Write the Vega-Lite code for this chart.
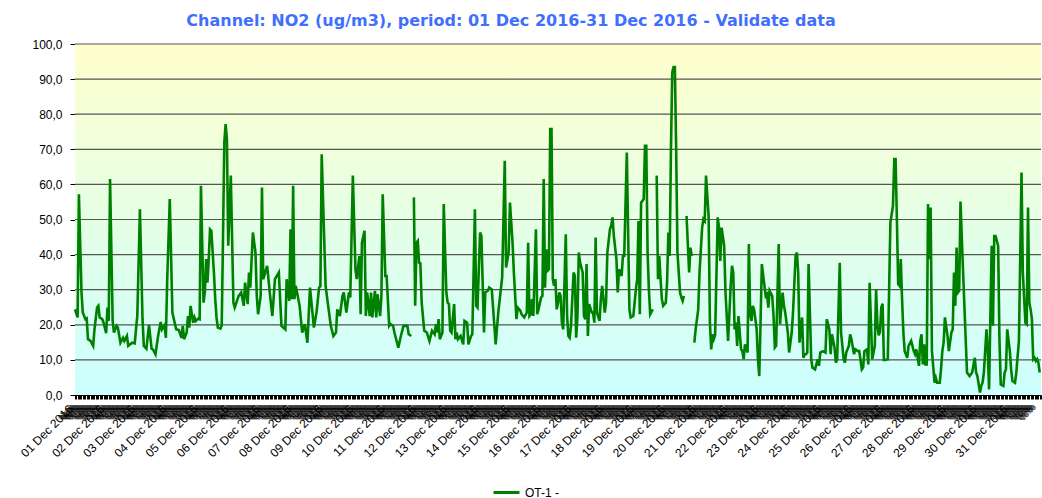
{
"$schema": "https://vega.github.io/schema/vega-lite/v6.json",
"width": 966, "height": 351,
"autosize": {"type": "none"},
"padding": {"left": 75, "top": 44, "right": 1, "bottom": 103},
"background": "white",
"title": {"text": "Channel: NO2 (ug/m3), period: 01 Dec 2016-31 Dec 2016 - Validate data", "font": "DejaVu Sans", "fontSize": 16, "fontWeight": "bold", "color": "#3F6FFF", "anchor": "middle", "dx": -47, "offset": 9},
"layer": [
{"data": {"values": [{}]},
 "mark": {"type": "rect", "color": {"gradient": "linear", "x1": 0, "y1": 0, "x2": 0, "y2": 1, "stops": [{"offset": 0, "color": "#FFFFCC"}, {"offset": 1, "color": "#CCFFFF"}]}},
 "encoding": {
   "x": {"datum": {"year": 2016, "month": 12, "date": 1, "utc": true}, "type": "temporal"},
   "x2": {"datum": {"year": 2017, "month": 1, "date": 1, "utc": true}},
   "y": {"datum": 100, "type": "quantitative",
    "axis": {"title": null, "grid": false, "values": [0,10,20,30,40,50,60,70,80,90,100], "labelOverlap": false,
      "labelExpr": "replace(format(datum.value,'.1f'),'.',',')",
      "labelFont": "Liberation Sans", "labelFontSize": 12, "labelColor": "black",
      "tickColor": "black", "tickSize": 5, "domainColor": "black", "labelPadding": 8}},
   "y2": {"datum": 0}}},
{"data": {"values": [{"g":10},{"g":20},{"g":30},{"g":40},{"g":50},{"g":60},{"g":70},{"g":80},{"g":90},{"g":100}]},
 "mark": {"type": "rule", "color": "#555555", "strokeWidth": 1.2},
 "encoding": {"y": {"field": "g", "type": "quantitative",
    "axis": {"title": null, "grid": false, "values": [0,10,20,30,40,50,60,70,80,90,100], "labelOverlap": false,
      "labelExpr": "replace(format(datum.value,'.1f'),'.',',')",
      "labelFont": "Liberation Sans", "labelFontSize": 12, "labelColor": "black",
      "tickColor": "black", "tickSize": 5, "domainColor": "black", "labelPadding": 8}}}},
{"data": {"format": {"parse": {"t": "utc:'%Y%m%d%H'"}}, "values": [
{"t":"2016120100","v":24.4},{"t":"2016120102","v":22.1},{"t":"2016120103","v":57.2},{"t":"2016120105","v":29.2},{"t":"2016120106","v":23.5},{"t":"2016120108","v":21.6},{"t":"2016120109","v":21.8},{"t":"2016120110","v":15.9},{"t":"2016120112","v":15.4},{"t":"2016120114","v":14},{"t":"2016120115","v":18.7},{"t":"2016120117","v":24.9},{"t":"2016120118","v":25.4},{"t":"2016120119","v":22.1},{"t":"2016120121","v":21.6},{"t":"2016120122","v":20.6},
{"t":"2016120200","v":17.6},{"t":"2016120201","v":24.9},{"t":"2016120202","v":21.1},{"t":"2016120203","v":61.5},{"t":"2016120205","v":21.1},{"t":"2016120206","v":17.8},{"t":"2016120208","v":19.7},{"t":"2016120209","v":19.2},{"t":"2016120211","v":14.9},{"t":"2016120213","v":16.3},{"t":"2016120214","v":15.4},{"t":"2016120216","v":16.8},{"t":"2016120217","v":14},{"t":"2016120220","v":14.9},{"t":"2016120222","v":14.7},
{"t":"2016120300","v":22.7},{"t":"2016120302","v":52.9},{"t":"2016120304","v":21.6},{"t":"2016120305","v":14},{"t":"2016120307","v":13.2},{"t":"2016120309","v":19.9},{"t":"2016120311","v":13.2},{"t":"2016120312","v":13},{"t":"2016120314","v":11.6},{"t":"2016120316","v":16.8},{"t":"2016120318","v":20.8},{"t":"2016120319","v":18.7},{"t":"2016120321","v":19.9},{"t":"2016120322","v":16.3},{"t":"2016120323","v":32.5},
{"t":"2016120401","v":55.8},{"t":"2016120403","v":23.5},{"t":"2016120405","v":20.2},{"t":"2016120406","v":18.7},{"t":"2016120408","v":18.5},{"t":"2016120410","v":16.3},{"t":"2016120411","v":19.7},{"t":"2016120412","v":15.9},{"t":"2016120414","v":17.8},{"t":"2016120415","v":22.5},{"t":"2016120416","v":19.2},{"t":"2016120417","v":25.4},{"t":"2016120419","v":20.6},{"t":"2016120420","v":22.1},{"t":"2016120421","v":21.1},{"t":"2016120423","v":21.8},
{"t":"2016120500","v":21.6},{"t":"2016120501","v":59.6},{"t":"2016120503","v":26.3},{"t":"2016120504","v":29.2},{"t":"2016120505","v":38.7},{"t":"2016120506","v":32},{"t":"2016120507","v":38.7},{"t":"2016120508","v":47.2},{"t":"2016120509","v":46.8},{"t":"2016120511","v":34.9},{"t":"2016120512","v":27.3},{"t":"2016120513","v":22.1},{"t":"2016120514","v":19.2},{"t":"2016120516","v":18.9},{"t":"2016120517","v":19.9},{"t":"2016120518","v":45},{"t":"2016120519","v":72},{"t":"2016120520","v":77.2},{"t":"2016120521","v":72.9},{"t":"2016120522","v":42.5},
{"t":"2016120600","v":62.5},{"t":"2016120602","v":26.3},{"t":"2016120603","v":24.9},{"t":"2016120606","v":28.2},{"t":"2016120608","v":29.2},{"t":"2016120610","v":25.4},{"t":"2016120611","v":32},{"t":"2016120613","v":25.9},{"t":"2016120614","v":34.9},{"t":"2016120615","v":30.6},{"t":"2016120617","v":46.3},{"t":"2016120619","v":40.6},{"t":"2016120620","v":28.2},{"t":"2016120621","v":23},{"t":"2016120623","v":28.2},
{"t":"2016120700","v":59.1},{"t":"2016120701","v":33},{"t":"2016120704","v":36.8},{"t":"2016120706","v":29.2},{"t":"2016120708","v":22.5},{"t":"2016120710","v":33},{"t":"2016120713","v":34.9},{"t":"2016120715","v":19.7},{"t":"2016120718","v":18.7},{"t":"2016120719","v":33},{"t":"2016120721","v":26.8},{"t":"2016120722","v":47.2},{"t":"2016120723","v":27.3},
{"t":"2016120800","v":59.6},{"t":"2016120801","v":27.3},{"t":"2016120802","v":31.1},{"t":"2016120805","v":25.4},{"t":"2016120807","v":17.8},{"t":"2016120809","v":20.2},{"t":"2016120811","v":14.9},{"t":"2016120813","v":30.6},{"t":"2016120816","v":19.2},{"t":"2016120818","v":23.5},{"t":"2016120820","v":30.6},{"t":"2016120821","v":31},{"t":"2016120822","v":68.6},
{"t":"2016120901","v":31.1},{"t":"2016120903","v":25.4},{"t":"2016120905","v":19.7},{"t":"2016120907","v":16.8},{"t":"2016120909","v":17.8},{"t":"2016120910","v":24.4},{"t":"2016120912","v":22.5},{"t":"2016120914","v":28.2},{"t":"2016120915","v":29.2},{"t":"2016120917","v":23.5},{"t":"2016120919","v":29.2},{"t":"2016120920","v":27.8},{"t":"2016120922","v":62.5},
{"t":"2016121000","v":35.8},{"t":"2016121001","v":33},{"t":"2016121003","v":39.6},{"t":"2016121004","v":23},{"t":"2016121005","v":43.4},{"t":"2016121007","v":46.8},{"t":"2016121008","v":22.5},{"t":"2016121009","v":29.2},{"t":"2016121011","v":22.5},{"t":"2016121012","v":29.2},{"t":"2016121013","v":22.1},{"t":"2016121015","v":29.7},{"t":"2016121016","v":22.1},{"t":"2016121017","v":28.7},{"t":"2016121019","v":22.5},{"t":"2016121020","v":28.2},{"t":"2016121021","v":57.2},{"t":"2016121023","v":33.9},
{"t":"2016121100","v":33.9},{"t":"2016121102","v":19.7},{"t":"2016121103","v":20.2},{"t":"2016121105","v":19.7},{"t":"2016121106","v":17.8},{"t":"2016121109","v":13.5},{"t":"2016121111","v":16.8},{"t":"2016121113","v":19.7},{"t":"2016121116","v":19.7},{"t":"2016121117","v":17.3},{"t":"2016121119","v":16.8},{"t":"2016121120","v":null},{"t":"2016121121","v":56.3},{"t":"2016121122","v":25.4},{"t":"2016121123","v":43.4},
{"t":"2016121200","v":43.9},{"t":"2016121201","v":37.7},{"t":"2016121202","v":37.5},{"t":"2016121203","v":26.3},{"t":"2016121205","v":18.3},{"t":"2016121207","v":17.8},{"t":"2016121209","v":15.4},{"t":"2016121211","v":18.3},{"t":"2016121213","v":17.3},{"t":"2016121214","v":20.2},{"t":"2016121215","v":17.8},{"t":"2016121216","v":21.6},{"t":"2016121217","v":15.9},{"t":"2016121219","v":17.8},{"t":"2016121220","v":54.4},{"t":"2016121222","v":29.2},{"t":"2016121223","v":26.3},
{"t":"2016121300","v":25.9},{"t":"2016121301","v":18.3},{"t":"2016121302","v":17.8},{"t":"2016121304","v":25.9},{"t":"2016121305","v":15.9},{"t":"2016121306","v":17.8},{"t":"2016121307","v":15.9},{"t":"2016121309","v":16.8},{"t":"2016121311","v":14.4},{"t":"2016121312","v":21.1},{"t":"2016121314","v":20.6},{"t":"2016121315","v":14.4},{"t":"2016121317","v":16.8},{"t":"2016121318","v":17.3},{"t":"2016121320","v":52.9},{"t":"2016121321","v":25.4},{"t":"2016121322","v":24.9},
{"t":"2016121400","v":46.3},{"t":"2016121401","v":45.3},{"t":"2016121403","v":17.8},{"t":"2016121404","v":29.2},{"t":"2016121406","v":29.7},{"t":"2016121407","v":30.6},{"t":"2016121409","v":30.1},{"t":"2016121412","v":14.4},{"t":"2016121414","v":23.5},{"t":"2016121417","v":33.5},{"t":"2016121419","v":66.7},{"t":"2016121420","v":36.3},{"t":"2016121422","v":40.6},{"t":"2016121423","v":54.8},
{"t":"2016121501","v":43.4},{"t":"2016121502","v":34.9},{"t":"2016121504","v":21.6},{"t":"2016121505","v":24.9},{"t":"2016121507","v":24},{"t":"2016121508","v":23},{"t":"2016121510","v":22.1},{"t":"2016121512","v":23.5},{"t":"2016121513","v":43.4},{"t":"2016121514","v":22.5},{"t":"2016121515","v":23},{"t":"2016121516","v":27.3},{"t":"2016121517","v":22.5},{"t":"2016121519","v":47.2},{"t":"2016121520","v":23},{"t":"2016121521","v":24.4},{"t":"2016121523","v":27.8},
{"t":"2016121600","v":28.2},{"t":"2016121601","v":61.5},{"t":"2016121602","v":30.6},{"t":"2016121603","v":41.5},{"t":"2016121604","v":35.4},{"t":"2016121605","v":35.8},{"t":"2016121606","v":75.8},{"t":"2016121607","v":75.8},{"t":"2016121608","v":33},{"t":"2016121609","v":31.1},{"t":"2016121610","v":33},{"t":"2016121611","v":24.4},{"t":"2016121612","v":26.3},{"t":"2016121613","v":29.2},{"t":"2016121614","v":28.2},{"t":"2016121615","v":20.6},{"t":"2016121616","v":18.7},{"t":"2016121618","v":45.8},{"t":"2016121619","v":22.5},{"t":"2016121620","v":16.8},{"t":"2016121621","v":16.3},{"t":"2016121622","v":19.7},
{"t":"2016121700","v":34.9},{"t":"2016121701","v":33.9},{"t":"2016121702","v":16.3},{"t":"2016121703","v":22.5},{"t":"2016121704","v":40.6},{"t":"2016121705","v":37.7},{"t":"2016121707","v":34.9},{"t":"2016121708","v":22.5},{"t":"2016121709","v":21.6},{"t":"2016121710","v":37.3},{"t":"2016121711","v":16.8},{"t":"2016121712","v":25.9},{"t":"2016121714","v":23.5},{"t":"2016121715","v":23.5},{"t":"2016121716","v":20.6},{"t":"2016121717","v":44.9},{"t":"2016121718","v":23.5},{"t":"2016121720","v":21.1},{"t":"2016121721","v":27.3},{"t":"2016121722","v":31.1},
{"t":"2016121800","v":23.5},{"t":"2016121801","v":26.3},{"t":"2016121802","v":40.6},{"t":"2016121804","v":47.2},{"t":"2016121805","v":48.2},{"t":"2016121806","v":50.6},{"t":"2016121807","v":45.3},{"t":"2016121809","v":38.7},{"t":"2016121810","v":29.2},{"t":"2016121811","v":35.8},{"t":"2016121813","v":33.9},{"t":"2016121814","v":39.6},{"t":"2016121815","v":39.6},{"t":"2016121817","v":69.1},{"t":"2016121819","v":24.4},{"t":"2016121820","v":22.1},{"t":"2016121822","v":22.5},
{"t":"2016121900","v":30.1},{"t":"2016121901","v":33},{"t":"2016121902","v":49.6},{"t":"2016121903","v":23},{"t":"2016121904","v":54.8},{"t":"2016121906","v":55.8},{"t":"2016121907","v":71},{"t":"2016121908","v":71},{"t":"2016121909","v":40.6},{"t":"2016121910","v":30.1},{"t":"2016121911","v":23},{"t":"2016121913","v":24.4},{"t":"2016121914","v":null},{"t":"2016121916","v":62.5},{"t":"2016121917","v":33},{"t":"2016121918","v":39.6},{"t":"2016121919","v":33},{"t":"2016121920","v":27.3},{"t":"2016121921","v":25.4},{"t":"2016121923","v":26.3},
{"t":"2016122000","v":32},{"t":"2016122001","v":46.3},{"t":"2016122002","v":39.6},{"t":"2016122003","v":70.1},{"t":"2016122004","v":91.9},{"t":"2016122005","v":93.4},{"t":"2016122006","v":93.4},{"t":"2016122007","v":70.1},{"t":"2016122008","v":40.6},{"t":"2016122010","v":29.2},{"t":"2016122011","v":27.8},{"t":"2016122012","v":26.8},{"t":"2016122013","v":28.2},{"t":"2016122014","v":null},{"t":"2016122015","v":51},{"t":"2016122017","v":34.9},{"t":"2016122018","v":42},{"t":"2016122019","v":39.6},{"t":"2016122020","v":null},{"t":"2016122021","v":14.9},{"t":"2016122022","v":18.7},
{"t":"2016122100","v":24.4},{"t":"2016122101","v":34.9},{"t":"2016122103","v":47.7},{"t":"2016122104","v":50.1},{"t":"2016122105","v":49.6},{"t":"2016122106","v":62.5},{"t":"2016122108","v":51},{"t":"2016122109","v":20.6},{"t":"2016122110","v":13},{"t":"2016122111","v":17.3},{"t":"2016122112","v":15.9},{"t":"2016122113","v":17},{"t":"2016122115","v":50.6},{"t":"2016122116","v":47.7},{"t":"2016122117","v":38.2},{"t":"2016122118","v":47.7},{"t":"2016122120","v":42.5},{"t":"2016122121","v":29.2},{"t":"2016122123","v":15.4},
{"t":"2016122201","v":31.1},{"t":"2016122202","v":36.8},{"t":"2016122203","v":34.9},{"t":"2016122204","v":18.7},{"t":"2016122205","v":20.6},{"t":"2016122206","v":14},{"t":"2016122207","v":22.5},{"t":"2016122209","v":13},{"t":"2016122210","v":12.5},{"t":"2016122211","v":10.2},{"t":"2016122212","v":14.4},{"t":"2016122214","v":12.1},{"t":"2016122215","v":43},{"t":"2016122216","v":23},{"t":"2016122217","v":21.1},{"t":"2016122218","v":25.4},{"t":"2016122219","v":24.4},{"t":"2016122221","v":18.7},{"t":"2016122222","v":10.2},{"t":"2016122223","v":5.4},
{"t":"2016122300","v":20.6},{"t":"2016122301","v":37.3},{"t":"2016122303","v":31.1},{"t":"2016122304","v":28.2},{"t":"2016122305","v":28.7},{"t":"2016122306","v":24.9},{"t":"2016122307","v":29.7},{"t":"2016122309","v":28.2},{"t":"2016122310","v":22.5},{"t":"2016122311","v":13.5},{"t":"2016122312","v":14},{"t":"2016122314","v":43},{"t":"2016122315","v":20.2},{"t":"2016122317","v":29.2},{"t":"2016122318","v":25.4},{"t":"2016122319","v":23.5},{"t":"2016122321","v":17.8},{"t":"2016122322","v":12.1},
{"t":"2016122400","v":17.8},{"t":"2016122401","v":23.5},{"t":"2016122403","v":39.6},{"t":"2016122404","v":40.6},{"t":"2016122405","v":34.9},{"t":"2016122406","v":14.9},{"t":"2016122408","v":22.1},{"t":"2016122409","v":10.6},{"t":"2016122410","v":11.6},{"t":"2016122411","v":11.6},{"t":"2016122412","v":12.1},{"t":"2016122413","v":37.3},{"t":"2016122415","v":10.2},{"t":"2016122416","v":7.8},{"t":"2016122418","v":7.3},{"t":"2016122420","v":10.2},{"t":"2016122421","v":8.3},{"t":"2016122422","v":12.1},
{"t":"2016122500","v":12.5},{"t":"2016122502","v":12.1},{"t":"2016122503","v":21.6},{"t":"2016122505","v":18.7},{"t":"2016122506","v":11.6},{"t":"2016122507","v":17.3},{"t":"2016122509","v":13.5},{"t":"2016122510","v":9.2},{"t":"2016122511","v":10.2},{"t":"2016122513","v":37.7},{"t":"2016122514","v":17.8},{"t":"2016122516","v":10.2},{"t":"2016122517","v":9.2},{"t":"2016122518","v":12.1},{"t":"2016122520","v":14},{"t":"2016122521","v":17.3},{"t":"2016122522","v":15.9},
{"t":"2016122600","v":11.6},{"t":"2016122601","v":13},{"t":"2016122603","v":12.5},{"t":"2016122604","v":12.5},{"t":"2016122606","v":7.3},{"t":"2016122607","v":7.8},{"t":"2016122608","v":12.5},{"t":"2016122610","v":13},{"t":"2016122611","v":8.7},{"t":"2016122612","v":32},{"t":"2016122614","v":10.2},{"t":"2016122615","v":12.1},{"t":"2016122616","v":14},{"t":"2016122617","v":30},{"t":"2016122618","v":20},{"t":"2016122619","v":17},{"t":"2016122620","v":18},{"t":"2016122621","v":25},{"t":"2016122622","v":26},{"t":"2016122623","v":10},
{"t":"2016122700","v":10},{"t":"2016122702","v":10.2},{"t":"2016122704","v":49.1},{"t":"2016122706","v":53.9},{"t":"2016122707","v":67.2},{"t":"2016122708","v":67.2},{"t":"2016122709","v":50.1},{"t":"2016122710","v":31.6},{"t":"2016122711","v":31.1},{"t":"2016122712","v":38.7},{"t":"2016122713","v":27.3},{"t":"2016122714","v":17.8},{"t":"2016122715","v":12.5},{"t":"2016122717","v":10.6},{"t":"2016122718","v":14},{"t":"2016122720","v":15.4},{"t":"2016122722","v":12.5},{"t":"2016122723","v":11.6},
{"t":"2016122800","v":13},{"t":"2016122802","v":8.3},{"t":"2016122803","v":15.4},{"t":"2016122804","v":17.3},{"t":"2016122805","v":8.7},{"t":"2016122806","v":14.4},{"t":"2016122807","v":8.7},{"t":"2016122808","v":8.7},{"t":"2016122809","v":54.4},{"t":"2016122810","v":38.7},{"t":"2016122811","v":53.4},{"t":"2016122812","v":12.5},{"t":"2016122814","v":3.5},{"t":"2016122815","v":4.9},{"t":"2016122816","v":3.5},{"t":"2016122818","v":3.5},{"t":"2016122819","v":7.3},{"t":"2016122820","v":12.5},{"t":"2016122821","v":14.9},{"t":"2016122822","v":22.1},
{"t":"2016122900","v":16.8},{"t":"2016122901","v":12.5},{"t":"2016122903","v":17.8},{"t":"2016122904","v":18.7},{"t":"2016122905","v":34.9},{"t":"2016122906","v":25.4},{"t":"2016122907","v":42},{"t":"2016122908","v":29.2},{"t":"2016122909","v":29.7},{"t":"2016122910","v":55.1},{"t":"2016122912","v":34.9},{"t":"2016122913","v":25.4},{"t":"2016122914","v":15.9},{"t":"2016122915","v":6.4},{"t":"2016122917","v":5.4},{"t":"2016122918","v":5.9},{"t":"2016122919","v":6.4},{"t":"2016122921","v":10.6},{"t":"2016122922","v":6.4},{"t":"2016122923","v":5.4},
{"t":"2016123001","v":0.7},{"t":"2016123002","v":2.6},{"t":"2016123003","v":3.5},{"t":"2016123004","v":6.4},{"t":"2016123006","v":18.7},{"t":"2016123007","v":12.5},{"t":"2016123008","v":1.6},{"t":"2016123010","v":42.5},{"t":"2016123011","v":19.7},{"t":"2016123012","v":45.3},{"t":"2016123013","v":45.3},{"t":"2016123015","v":42.5},{"t":"2016123016","v":15.9},{"t":"2016123017","v":3},{"t":"2016123019","v":2.6},{"t":"2016123020","v":6.4},{"t":"2016123021","v":7.3},{"t":"2016123022","v":18.7},
{"t":"2016123100","v":12.5},{"t":"2016123101","v":7.3},{"t":"2016123102","v":4},{"t":"2016123104","v":3.5},{"t":"2016123105","v":6.4},{"t":"2016123106","v":11.1},{"t":"2016123107","v":15.4},{"t":"2016123109","v":63.4},{"t":"2016123110","v":34.9},{"t":"2016123112","v":20.6},{"t":"2016123113","v":20.2},{"t":"2016123114","v":53.4},{"t":"2016123115","v":26.3},{"t":"2016123116","v":24.4},{"t":"2016123117","v":21.6},{"t":"2016123118","v":10.2},{"t":"2016123119","v":10.6},{"t":"2016123120","v":9.7},{"t":"2016123121","v":10.2},{"t":"2016123122","v":9.2},{"t":"2016123123","v":6.4}
]},
 "mark": {"type": "line", "strokeWidth": 2.6, "invalid": "break-paths-show-domains"},
 "encoding": {
  "x": {"field": "t", "type": "temporal",
    "scale": {"type": "utc", "domain": [{"year": 2016, "month": 12, "date": 1, "utc": true}, {"year": 2017, "month": 1, "date": 1, "utc": true}]},
    "axis": {"title": null, "grid": false, "tickCount": 744,
      "labelExpr": "utchours(datum.value)==0 ? (utcyear(datum.value)==2017 ? '' : utcFormat(datum.value,'%d %b %Y')) : utcFormat(datum.value,'%H:00')",
      "labelAngle": -45, "labelOverlap": false, "labelBound": false, "labelFlush": false,
      "labelFont": "Liberation Sans",
      "labelFontSize": {"condition": {"test": "utchours(datum.value)==0", "value": 12}, "value": 7},
      "labelColor": "black", "tickColor": "black", "tickSize": 4, "domainColor": "black", "labelPadding": 4, "labelOffset": -8}},
  "y": {"field": "v", "type": "quantitative", "scale": {"domain": [0, 100], "nice": false},
    "axis": {"title": null, "grid": false, "values": [0,10,20,30,40,50,60,70,80,90,100], "labelOverlap": false,
      "labelExpr": "replace(format(datum.value,'.1f'),'.',',')",
      "labelFont": "Liberation Sans", "labelFontSize": 12, "labelColor": "black",
      "tickColor": "black", "tickSize": 5, "domainColor": "black", "labelPadding": 8}},
  "color": {"datum": "OT-1 -", "scale": {"range": ["#008000"]},
    "legend": {"orient": "none", "legendX": 417, "legendY": 434, "title": null, "symbolType": "stroke", "symbolSize": 676, "symbolStrokeWidth": 3, "labelFont": "Liberation Sans", "labelFontSize": 12, "labelColor": "black", "labelOffset": 4}}
 }}
],
"config": {"view": {"stroke": null}}
}
